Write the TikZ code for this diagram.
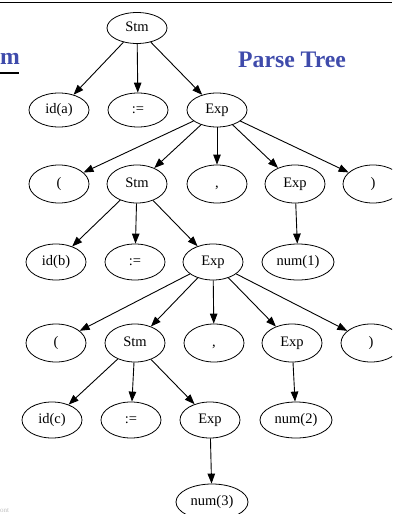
\documentclass[tikz,border=0pt]{standalone}
\usepackage{fontspec}
\setmainfont{Liberation Serif}
\usetikzlibrary{shapes.geometric,arrows.meta}
\definecolor{titleblue}{RGB}{63,75,171}
\tikzset{
  tn/.style={draw, ellipse, line width=0.8pt, inner sep=0pt,
    minimum width=60pt, minimum height=36pt,
    text height=10pt, text depth=3.2pt,
    font=\fontsize{14.5pt}{16pt}\selectfont},
  wide/.style={minimum width=72pt},
  edge/.style={line width=0.9pt, -{Triangle[length=10pt,width=7.5pt]}},
  title/.style={text=titleblue, font=\fontsize{23.7pt}{26pt}\selectfont\bfseries, inner sep=0pt}
}
\begin{document}
\begin{tikzpicture}[x=1pt,y=-1pt]
\useasboundingbox (0,0) rectangle (392,514);
\clip (0,0) rectangle (392,514);

% frame rule and headings
\draw[line width=1.5pt] (0,2.5) -- (392,2.5);
\node[title, anchor=base west] (hm) at (0,64) {m};
\draw[line width=2pt] (0,72.5) -- (19,72.5);
\node[title, anchor=base west] (pt) at (238,67) {Parse Tree};
\node[anchor=base west, inner sep=0pt, text=black!25, font=\fontsize{7pt}{8pt}\selectfont] (ft) at (0,512) {ont};

% row 0
\node[tn, minimum height=31pt] (s0) at (137,28) {Stm};
% row 1
\node[tn, minimum height=34pt] (ida) at (59,110) {id(a)};
\node[tn, minimum height=34pt] (as1) at (138,110) {:=};
\node[tn, minimum height=34pt] (e1) at (217,110) {Exp};
% row 2
\node[tn, minimum height=38pt] (lp1) at (59,184) {(};
\node[tn, minimum height=38pt] (s2) at (137,184) {Stm};
\node[tn, minimum height=38pt] (cm1) at (217,184) {,};
\node[tn, minimum height=38pt] (e2) at (295,184) {Exp};
\node[tn, minimum height=38pt] (rp1) at (373,184) {)};
% row 3
\node[tn] (idb) at (56,262) {id(b)};
\node[tn] (as2) at (135,262) {:=};
\node[tn] (e3) at (213,262) {Exp};
\node[tn, wide] (n1) at (298,262) {num(1)};
% row 4
\node[tn, minimum height=38pt] (lp2) at (56,343) {(};
\node[tn, minimum height=38pt] (s4) at (135,343) {Stm};
\node[tn, minimum height=38pt] (cm2) at (214,343) {,};
\node[tn, minimum height=38pt] (e4) at (292,343) {Exp};
\node[tn, minimum height=38pt] (rp2) at (371,343) {)};
% row 5
\node[tn] (idc) at (52,420) {id(c)};
\node[tn] (as3) at (131,420) {:=};
\node[tn] (e5) at (210,420) {Exp};
\node[tn, wide] (n2) at (296,420) {num(2)};
% row 6
\node[tn, wide] (n3) at (212,502) {num(3)};

% tree edges
\foreach \a/\b in {s0/ida, s0/as1, s0/e1,
  e1/lp1, e1/s2, e1/cm1, e1/e2, e1/rp1,
  s2/idb, s2/as2, s2/e3, e2/n1,
  e3/lp2, e3/s4, e3/cm2, e3/e4, e3/rp2,
  s4/idc, s4/as3, s4/e5, e4/n2, e5/n3}
  \draw[edge] (\a) -- (\b);
\end{tikzpicture}
\end{document}
